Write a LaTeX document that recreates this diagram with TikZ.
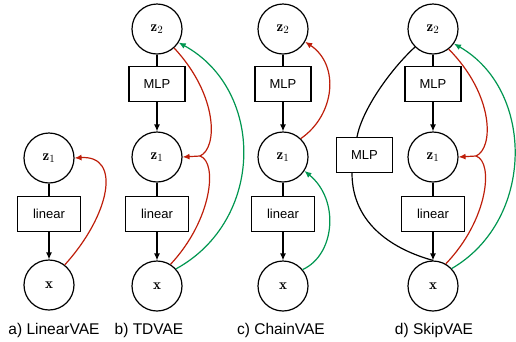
\documentclass[tikz,border=0pt]{standalone}
\usepackage{fontspec}
\setsansfont{Liberation Sans}
\usetikzlibrary{arrows.meta}
\definecolor{myred}{RGB}{190,30,10}
\definecolor{mygreen}{RGB}{0,150,80}
\begin{document}
\begin{tikzpicture}[x=1pt,y=-1pt,
  var/.style={circle,draw,line width=1.2pt,minimum size=50pt,inner sep=0pt,font=\fontsize{15}{18}\selectfont},
  fbox/.style={rectangle,draw,line width=1.2pt,minimum height=35pt,inner sep=0pt,font=\sffamily\fontsize{13}{15}\selectfont},
  mlpbox/.style={fbox,minimum width=56pt},
  linbox/.style={fbox,minimum width=63pt},
  conn/.style={line width=1.2pt},
  arr/.style={line width=1.2pt,-{Latex[length=7pt,width=6pt]}},
  redline/.style={myred,line width=1.2pt},
  redarr/.style={myred,line width=1.2pt,-{Latex[length=7pt,width=6pt]}},
  greenarr/.style={mygreen,line width=1.2pt,-{Latex[length=7pt,width=6pt]}},
  caption/.style={font=\sffamily\fontsize{15.5}{18}\selectfont}
]
\useasboundingbox (0,0) rectangle (516,341);

% ---------- a) LinearVAE ----------
\node[var] (za1) at (49,158) {$\mathbf{z}_1$};
\node[linbox] (lina) at (49,214) {linear};
\node[var] (xa) at (49,285) {$\mathbf{x}$};
\draw[conn] (za1) -- (lina);
\draw[arr] (lina) -- (xa);
\draw[redarr] (xa.52) .. controls (110,215) and (122,155) .. (za1.east);
\node[caption] (capa) at (54,330) {a) LinearVAE};

% ---------- b) TDVAE ----------
\node[var] (zb2) at (157,29) {$\mathbf{z}_2$};
\node[mlpbox] (mlpb) at (157,84) {MLP};
\node[var] (zb1) at (157,157) {$\mathbf{z}_1$};
\node[linbox] (linb) at (157,214) {linear};
\node[var] (xb) at (157,286) {$\mathbf{x}$};
\draw[conn] (zb2) -- (mlpb);
\draw[arr] (mlpb) -- (zb1);
\draw[conn] (zb1) -- (linb);
\draw[arr] (linb) -- (xb);
\coordinate (jb) at (200,156);
\draw[redline] (zb2.-48) .. controls (218,95) and (218,148) .. (jb);
\draw[redline] (xb.58) .. controls (212,220) and (218,162) .. (jb);
\draw[redarr] (jb) -- (zb1.east);
\draw[greenarr] (xb.42) .. controls (265,220) and (265,90) .. (zb2.-32);
\node[caption] (capb) at (149,330) {b) TDVAE};

% ---------- c) ChainVAE ----------
\node[var] (zc2) at (283,29) {$\mathbf{z}_2$};
\node[mlpbox] (mlpc) at (283,84) {MLP};
\node[var] (zc1) at (283,157) {$\mathbf{z}_1$};
\node[linbox] (linc) at (283,214) {linear};
\node[var] (xc) at (283,286) {$\mathbf{x}$};
\draw[conn] (zc2) -- (mlpc);
\draw[arr] (mlpc) -- (zc1);
\draw[conn] (zc1) -- (linc);
\draw[arr] (linc) -- (xc);
\draw[redarr] (zc1.46) .. controls (335,115) and (340,65) .. (zc2.-30);
\draw[greenarr] (xc.40) .. controls (335,255) and (340,200) .. (zc1.-33);
\node[caption] (capc) at (281,330) {c) ChainVAE};

% ---------- d) SkipVAE ----------
\node[var] (zd2) at (433,29) {$\mathbf{z}_2$};
\node[mlpbox] (mlpd) at (433,84) {MLP};
\node[var] (zd1) at (433,157) {$\mathbf{z}_1$};
\node[linbox] (lind) at (433,214) {linear};
\node[var] (xd) at (433,286) {$\mathbf{x}$};
\node[mlpbox] (skipd) at (364.5,155) {MLP};
\draw[conn] (zd2) -- (mlpd);
\draw[arr] (mlpd) -- (zd1);
\draw[conn] (zd1) -- (lind);
\draw[arr] (lind) -- (xd);
\draw[conn] (zd2.-135) .. controls (390,70) and (362,110) .. (skipd.north -| 357,0);
\draw[conn] (skipd.south -| 352,0) .. controls (352,225) and (395,250) .. (xd.north);
\coordinate (jd) at (476,156);
\draw[redline] (zd2.-52) .. controls (494,95) and (494,148) .. (jd);
\draw[redline] (xd.60) .. controls (488,220) and (494,162) .. (jd);
\draw[redarr] (jd) -- (zd1.east);
\draw[greenarr] (xd.43) .. controls (535,220) and (535,90) .. (zd2.-35);
\node[caption] (capd) at (434,330) {d) SkipVAE};
\end{tikzpicture}
\end{document}
